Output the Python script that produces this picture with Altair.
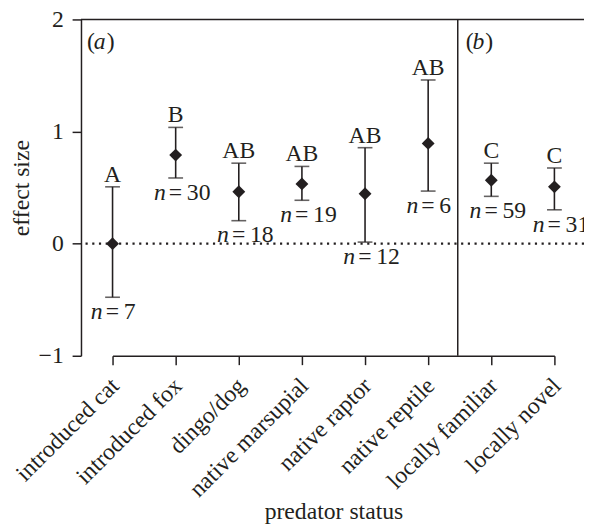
import altair as alt
import pandas as pd

categories = ["introduced cat", "introduced fox", "dingo/dog", "native marsupial",
              "native raptor", "native reptile", "locally familiar", "locally novel"]
means = [0.0, 0.79, 0.463, 0.533, 0.445, 0.894, 0.566, 0.507]
upper = [0.507, 1.037, 0.718, 0.689, 0.856, 1.46, 0.718, 0.675]
lower = [-0.478, 0.586, 0.205, 0.387, 0.014, 0.469, 0.422, 0.302]
letters = ["A", "B", "AB", "AB", "AB", "AB", "C", "C"]
ns = [7, 30, 18, 19, 12, 6, 59, 31]
panel_letters = ["a", "b"]
panel_anchor = ["introduced cat", "locally familiar"]
divider_after = ["native reptile"]
ref_lines = [0, 2]

INK = "#231f20"
FONT = "Liberation Serif, Times New Roman, Times, serif"
FS = 24

df = pd.DataFrame({"cat": categories, "mean": means, "hi": upper, "lo": lower,
                   "letter": letters, "n": ns})
pdf = pd.DataFrame({"cat": panel_anchor, "p": panel_letters})
ddf = pd.DataFrame({"cat": divider_after})

xenc = alt.X("cat:N", sort=categories,
             scale=alt.Scale(type="point", range=[32, 480], padding=0),
             axis=alt.Axis(title="predator status", labelAngle=-45, labelAlign="right",
                           labelBaseline="top", labelPadding=9, labelOffset=-6, tickSize=9,
                           titleY=165, titleBaseline="alphabetic"))
yscale = alt.Scale(domain=[-1, 2], nice=False, zero=False)
yaxis = alt.Axis(title="effect size", values=[-1, 0, 1, 2], tickSize=9, labelPadding=9,
                 titlePadding=5, format="d")

base = alt.Chart(df)

zero_line = alt.Chart(pd.DataFrame({"v": [ref_lines[0]]})).mark_rule(
    color=INK, strokeDash=[2.2, 4.6], strokeWidth=2.4).encode(
    y=alt.Y("v:Q", scale=yscale, axis=yaxis))
top_line = alt.Chart(pd.DataFrame({"v": [ref_lines[1]]})).mark_rule(
    color=INK, strokeWidth=1.5).encode(y=alt.Y("v:Q"))
divider = alt.Chart(ddf).mark_rule(color=INK, strokeWidth=1.5, xOffset=30).encode(x=xenc)

bars = base.mark_rule(color=INK, strokeWidth=1.6).encode(
    x=xenc, y=alt.Y("lo:Q", scale=yscale, axis=yaxis), y2="hi:Q")
cap_hi = base.mark_tick(color=INK, thickness=1.6, size=15).encode(x=xenc, y="hi:Q")
cap_lo = base.mark_tick(color=INK, thickness=1.6, size=15).encode(x=xenc, y="lo:Q")
pts = base.mark_point(shape="diamond", filled=True, size=170, color=INK, opacity=1).encode(
    x=xenc, y="mean:Q")

let = base.mark_text(font=FONT, fontSize=FS, color=INK, baseline="alphabetic", dy=-5).encode(
    x=xenc, y="hi:Q", text="letter:N")
n_it = base.mark_text(font=FONT, fontSize=FS, fontStyle="italic", color=INK, align="right",
                      baseline="middle", dy=15, dx=-10).encode(
    x=xenc, y="lo:Q", text=alt.value("n"))
n_rest = base.transform_calculate(t="'=\u2009' + datum.n").mark_text(
    font=FONT, fontSize=FS, color=INK, align="left", baseline="middle", dy=15, dx=-7).encode(
    x=xenc, y="lo:Q", text="t:N")

pbase = alt.Chart(pdf)
p_open = pbase.mark_text(font=FONT, fontSize=FS, color=INK, align="left", baseline="middle",
                         dx=-26, dy=23).encode(x=xenc, y=alt.datum(2), text=alt.value("("))
p_let = pbase.mark_text(font=FONT, fontSize=FS, fontStyle="italic", color=INK, align="left",
                        baseline="middle", dx=-19, dy=23).encode(x=xenc, y=alt.datum(2), text="p:N")
p_close = pbase.mark_text(font=FONT, fontSize=FS, color=INK, align="left", baseline="middle",
                          dx=-6, dy=23).encode(x=xenc, y=alt.datum(2), text=alt.value(")"))

chart = alt.layer(zero_line, top_line, divider, bars, cap_hi, cap_lo, pts, let, n_it, n_rest,
                  p_open, p_let, p_close).properties(
    width=510, height=341,
    autosize=alt.AutoSizeParams(type="none"),
    padding={"left": 74, "top": 8, "right": 0, "bottom": 170},
).configure_view(stroke=None).configure_axis(
    domainColor=INK, domainWidth=1.5, tickColor=INK, tickWidth=1.5, grid=False,
    labelFont=FONT, labelFontSize=24, labelColor=INK,
    titleFont=FONT, titleFontSize=24, titleColor=INK, titleFontWeight="normal",
)

chart.save("out.html", embed_options={"renderer": "svg", "actions": False})
